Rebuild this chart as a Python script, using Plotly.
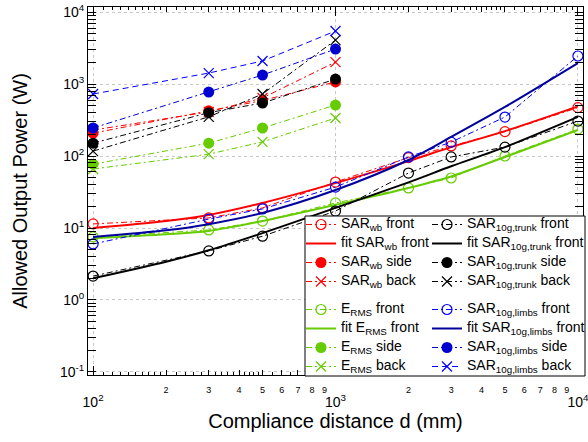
import plotly.graph_objects as go

# Compliance distances (mm)
d_all = [100, 300, 500, 1000, 2000, 3000, 5000, 10000]
d_near = [100, 300, 500, 1000]
d_fit = [100, 200, 300, 500, 1000, 2000, 3000, 5000, 10000]

# Allowed output power (W) - whole-body SAR
sar_wb_front = [11.4, 13.8, 19.0, 43.5, 95, 138, 218, 470]
sar_wb_fit = [10.0, 12.5, 15.2, 22.3, 42, 85, 133, 222, 490]
sar_wb_side = [208, 425, 590, 1070]
sar_wb_back = [229, 410, 640, 2020]

# E_RMS
e_rms_front = [7.5, 9.4, 12.5, 22.3, 36, 49.5, 100, 237]
e_rms_fit = [7.2, 8.2, 9.1, 12.5, 21, 36, 52, 97, 230]
e_rms_side = [77, 151, 245, 511]
e_rms_back = [66, 106, 157, 337]

# 10 g SAR, trunk
sar_trunk_front = [2.15, 4.8, 7.7, 17.2, 58, 97, 133, 306]
sar_trunk_fit = [2.0, 3.4, 4.9, 8.5, 19, 43, 72, 133, 350]
sar_trunk_side = [151, 400, 545, 1170]
sar_trunk_back = [117, 350, 727, 4080]

# 10 g SAR, limbs
sar_limbs_front = [6.0, 13.3, 18.4, 37, 97, 156, 348, 2450]
sar_limbs_fit = [7.5, 9.3, 11.3, 16.2, 33.7, 88, 184, 480, 1950]
sar_limbs_side = [245, 774, 1334, 3060]
sar_limbs_back = [727, 1420, 2090, 5450]

# Axis ticks
y_tickvals = [0.1, 1, 10, 100, 1000, 10000]
y_ticktext = ["10<sup>-1</sup>", "10<sup>0</sup>", "10<sup>1</sup>",
              "10<sup>2</sup>", "10<sup>3</sup>", "10<sup>4</sup>"]
x_decades = [100, 1000, 10000]
x_decade_text = ["10<sup>2</sup>", "10<sup>3</sup>", "10<sup>4</sup>"]
x_digits = [200, 300, 400, 500, 600, 700, 800, 900,
            2000, 3000, 4000, 5000, 6000, 7000, 8000, 9000]
x_digit_text = ["2", "3", "4", "5", "6", "7", "8", "9",
                "2", "3", "4", "5", "6", "7", "8", "9"]

RED = "#ff0000"
GREEN = "#66cc00"
BLACK = "#000000"
BLUE = "#0000ff"
BLUE_SIDE = "#0000d0"
BLUE_FIT = "#00009c"
FONT = "Liberation Sans, Arial, sans-serif"
DASHDOT = "6px,3px,2px,3px"
DASH = "6px,4px"


def lab(s):
    return '<span style="font-size:14px">' + s + "</span>"


fig = go.Figure()


def add_family(name, color, side_color, front, fit, side, back,
               legend, group, back_dash=DASHDOT, fit_color=None):
    fig.add_trace(go.Scatter(
        x=d_all, y=front, mode="lines+markers", name=lab(name + " front"),
        line=dict(color=color, width=1, dash=DASHDOT),
        marker=dict(symbol="circle-open", size=10, color=color, line=dict(width=1.2)),
        legend=legend, legendgroup=group))
    fig.add_trace(go.Scatter(
        x=d_fit, y=fit, mode="lines", name=lab("fit " + name + " front"),
        line=dict(color=fit_color or color, width=2, shape="spline", smoothing=0.8),
        legend=legend, legendgroup=group))
    fig.add_trace(go.Scatter(
        x=d_near, y=side, mode="lines+markers", name=lab(name + " side"),
        line=dict(color=side_color, width=1, dash=DASHDOT),
        marker=dict(symbol="circle", size=11, color=side_color),
        legend=legend, legendgroup=group))
    fig.add_trace(go.Scatter(
        x=d_near, y=back, mode="lines+markers", name=lab(name + " back"),
        line=dict(color=color, width=1, dash=back_dash),
        marker=dict(symbol="x-thin-open", size=10, color=color, line=dict(width=1.2, color=color)),
        legend=legend, legendgroup=group))


add_family("SAR<sub>wb</sub>", RED, RED, sar_wb_front, sar_wb_fit,
           sar_wb_side, sar_wb_back, "legend", "a")
add_family("E<sub>RMS</sub>", GREEN, GREEN, e_rms_front, e_rms_fit,
           e_rms_side, e_rms_back, "legend", "b")
add_family("SAR<sub>10g,trunk</sub>", BLACK, BLACK, sar_trunk_front, sar_trunk_fit,
           sar_trunk_side, sar_trunk_back, "legend2", "c")
add_family("SAR<sub>10g,limbs</sub>", BLUE, BLUE_SIDE, sar_limbs_front, sar_limbs_fit,
           sar_limbs_side, sar_limbs_back, "legend2", "d",
           back_dash=DASH, fit_color=BLUE_FIT)

# Invisible trace on x2 so the digit-label axis renders
fig.add_trace(go.Scatter(x=[100, 10000], y=[1, 1], xaxis="x2", mode="markers",
                         marker=dict(opacity=0), showlegend=False, hoverinfo="skip"))

# minor subdivisions on the x axis
x_minor = []
for dec in (100, 1000):
    x_minor += [dec * (1 + 0.1 * k) for k in range(1, 10)]
    x_minor += [dec * (2 + 0.2 * k) for k in range(1, 15)]
    x_minor += [dec * (5 + 0.5 * k) for k in range(1, 10)]
x_minor = [v for v in x_minor if all(abs(v - t) > 1e-6 * v for t in x_digits + x_decades)]

X_RANGE = [1.979, 4.021]
Y_RANGE = [-1.042, 4.07]

legend_common = dict(
    bgcolor="rgba(0,0,0,0)", borderwidth=0, font=dict(size=10, family=FONT, color="black"),
    traceorder="grouped", tracegroupgap=9, itemwidth=30,
    xanchor="left", yanchor="top", y=(375 - 210) / 368)

fig.update_layout(
    width=588, height=442,
    margin=dict(l=88, r=5, t=7, b=67, autoexpand=False),
    paper_bgcolor="white", plot_bgcolor="white",
    font=dict(family=FONT, color="black"),
    showlegend=True,
    legend=dict(x=(301 - 88) / 495, **legend_common),
    legend2=dict(x=(427 - 88) / 495, **legend_common),
    xaxis=dict(
        type="log", range=X_RANGE,
        tickmode="array", tickvals=x_decades, ticktext=x_decade_text,
        tickfont=dict(size=14, family=FONT, color="black"),
        ticklabelstandoff=14, ticklabeloverflow="allow",
        ticks="inside", ticklen=9, tickwidth=1, tickcolor="black",
        showline=True, linecolor="black", linewidth=1, mirror="allticks",
        showgrid=True, gridcolor="#c8c8c8", griddash="dot", gridwidth=1,
        minor=dict(tickmode="array", tickvals=x_minor, ticks="inside", ticklen=3,
                   tickcolor="black", showgrid=False),
        title=dict(text="Compliance distance d (mm)", font=dict(size=20, family=FONT), standoff=1),
        zeroline=False,
    ),
    xaxis2=dict(
        type="log", range=X_RANGE, overlaying="x", anchor="y", side="bottom",
        tickmode="array", tickvals=x_digits, ticktext=x_digit_text,
        tickfont=dict(size=9, family=FONT, color="black"),
        ticklabelstandoff=8, ticklabeloverflow="allow",
        ticks="inside", ticklen=5, tickwidth=1, tickcolor="black",
        showline=False, mirror="ticks", showgrid=False, zeroline=False,
    ),
    yaxis=dict(
        type="log", range=Y_RANGE,
        tickmode="array", tickvals=y_tickvals, ticktext=y_ticktext,
        tickfont=dict(size=14, family=FONT, color="black"),
        ticks="inside", ticklen=8, tickwidth=1, tickcolor="black",
        showline=True, linecolor="black", linewidth=1, mirror="allticks",
        showgrid=True, gridcolor="#c8c8c8", griddash="dot", gridwidth=1,
        minor=dict(dtick="D1", ticks="inside", ticklen=4, tickcolor="black", showgrid=False),
        title=dict(text="Allowed Output Power (W)", font=dict(size=20, family=FONT), standoff=26),
        zeroline=False,
    ),
    shapes=[dict(type="rect", xref="paper", yref="paper",
                 x0=(305 - 88) / 495, x1=(585 - 88) / 495,
                 y0=(375 - 376) / 368, y1=(375 - 216) / 368,
                 line=dict(color="black", width=1), fillcolor="white", layer="above")],
)

fig.write_html("out.html")
